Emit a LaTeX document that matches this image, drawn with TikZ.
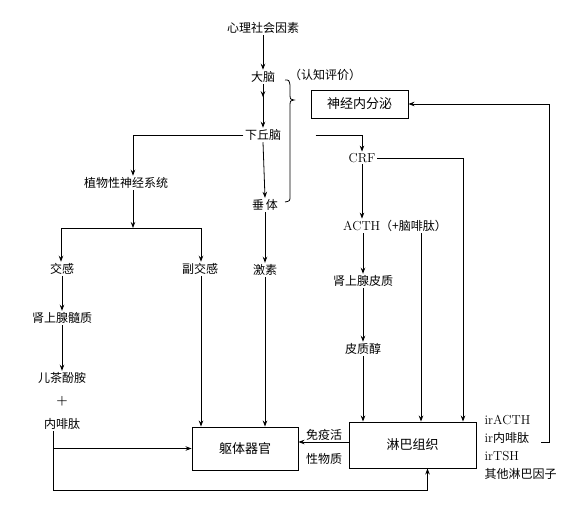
\documentclass[tikz,border=0pt]{standalone}
\usepackage{fontspec}
\newfontfamily\cjk{Noto Sans CJK SC}
\newcommand{\lt}[1]{{\rmfamily\fontsize{13}{15}\selectfont #1}}
\usetikzlibrary{arrows.meta,calc}
\begin{document}
\begin{tikzpicture}[x=1pt,y=-1pt,
  every node/.style={font=\cjk\fontsize{12}{14}\selectfont, inner sep=1.5pt},
  arr/.style={-{Stealth[length=6pt,width=4.5pt,inset=2pt]}, line width=0.8pt},
  ln/.style={line width=0.8pt},
  boxnode/.style={draw, line width=0.9pt, font=\cjk\fontsize{13}{15}\selectfont}]
\useasboundingbox (0,0) rectangle (584,522);
% nodes
\node (n1) at (263,28) {心理社会因素};
\node (n2) at (263,77) {大脑};
\node (rz) at (325,75) {（认知评价）};
\node[boxnode, minimum width=97pt, minimum height=28pt] (nne) at (359.5,104) {神经内分泌};
\node (n3) at (263,135) {下丘脑};
\node (n4) at (126,183) {植物性神经系统};
\node (n5) at (265,205) {垂\,体};
\node (n6) at (62,269) {交感};
\node (n7) at (200,269) {副交感};
\node (n8) at (265,270) {激素};
\node (n9) at (62,318) {肾上腺髓质};
\node (n10) at (62,378) {儿茶酚胺};
\node (np) at (62,401) {\rmfamily\bfseries\fontsize{13}{13}\selectfont +};
\node (n11) at (62,424) {内啡肽};
\node (crf) at (362,158) {\lt{CRF}};
\node (acth) at (395,226) {\lt{ACTH}（+脑啡肽）};
\node (adc) at (363,281) {肾上腺皮质};
\node (cort) at (363,349) {皮质醇};
\node[boxnode, minimum width=106pt, minimum height=43pt] (body) at (245,448.5) {躯体器官};
\node[boxnode, minimum width=127pt, minimum height=46pt] (lymph) at (412.5,445) {淋巴组织};
\node (im1) at (324,435) {免疫活};
\node (im2) at (324,459) {性物质};
\node[anchor=west] (ir1) at (483,420) {\lt{irACTH}};
\node[anchor=west] (ir2) at (483,438) {\lt{ir}内啡肽};
\node[anchor=west] (ir3) at (483,456) {\lt{irTSH}};
\node[anchor=west] (ir4) at (483,474) {其他淋巴因子};
% coordinates
\coordinate (spL) at (61,228);
\coordinate (spR) at (201,228);
\coordinate (bl) at (53,490);
\coordinate (fbs) at (541,442);
\coordinate (fbc) at (549,442);
% connectors
\draw[arr] (n1.south) -- (n2.north);
\draw[arr] (n2.south) -- ++(0,13);
\draw[arr] (n2.south) -- (n3.north);
\draw[ln] (285,80) .. controls (289,80) .. (290,85) -- (290,96) .. controls (290,99) .. (294,100)
  .. controls (290,101) .. (290,104) -- (290,196) .. controls (290,201) .. (285,202);
\draw[arr] (n3.west) -| ([xshift=7pt]n4.north);
\draw[arr] ([xshift=33pt]n3.east) -| (crf.north);
\draw[arr] (n3.south) -- (n5.north);
\draw[arr] (n5.south) -- (n8.north);
\draw[arr] ([xshift=7pt]n4.south) -- (133,228);
\draw[ln] (spL) -- (spR);
\draw[arr] (spL) -- (spL |- n6.north);
\draw[arr] (spR) -- (spR |- n7.north);
\draw[arr] (n6.south) -- (n9.north);
\draw[arr] (n9.south) -- (n10.north);
\draw[arr] ([xshift=-9pt]n11.south) |- (body.west);
\draw[arr] ([xshift=-9pt]n11.south) -- (bl) -| ([xshift=15pt]lymph.south);
\draw[arr] ([xshift=1pt]n7.south) -- ([xshift=1pt]n7.south |- body.north);
\draw[arr] (n8.south) -- (n8.south |- body.north);
\draw[arr] ([yshift=3pt]lymph.west) -- ([yshift=3pt]lymph.west -| body.east);
\draw[arr] (crf.south) -- (crf.south |- acth.north);
\draw[arr] (crf.east) -| ([xshift=50.5pt]lymph.north);
\draw[arr] ([xshift=26pt]acth.south) -- ([xshift=26pt]acth.south |- lymph.north);
\draw[arr] (acth.south -| adc.north) -- (adc.north);
\draw[arr] (adc.south) -- (cort.north);
\draw[arr] (cort.south) -- (cort.south |- lymph.north);
\draw[arr] (fbs) -- (fbc) |- (nne.east);
\end{tikzpicture}
\end{document}
